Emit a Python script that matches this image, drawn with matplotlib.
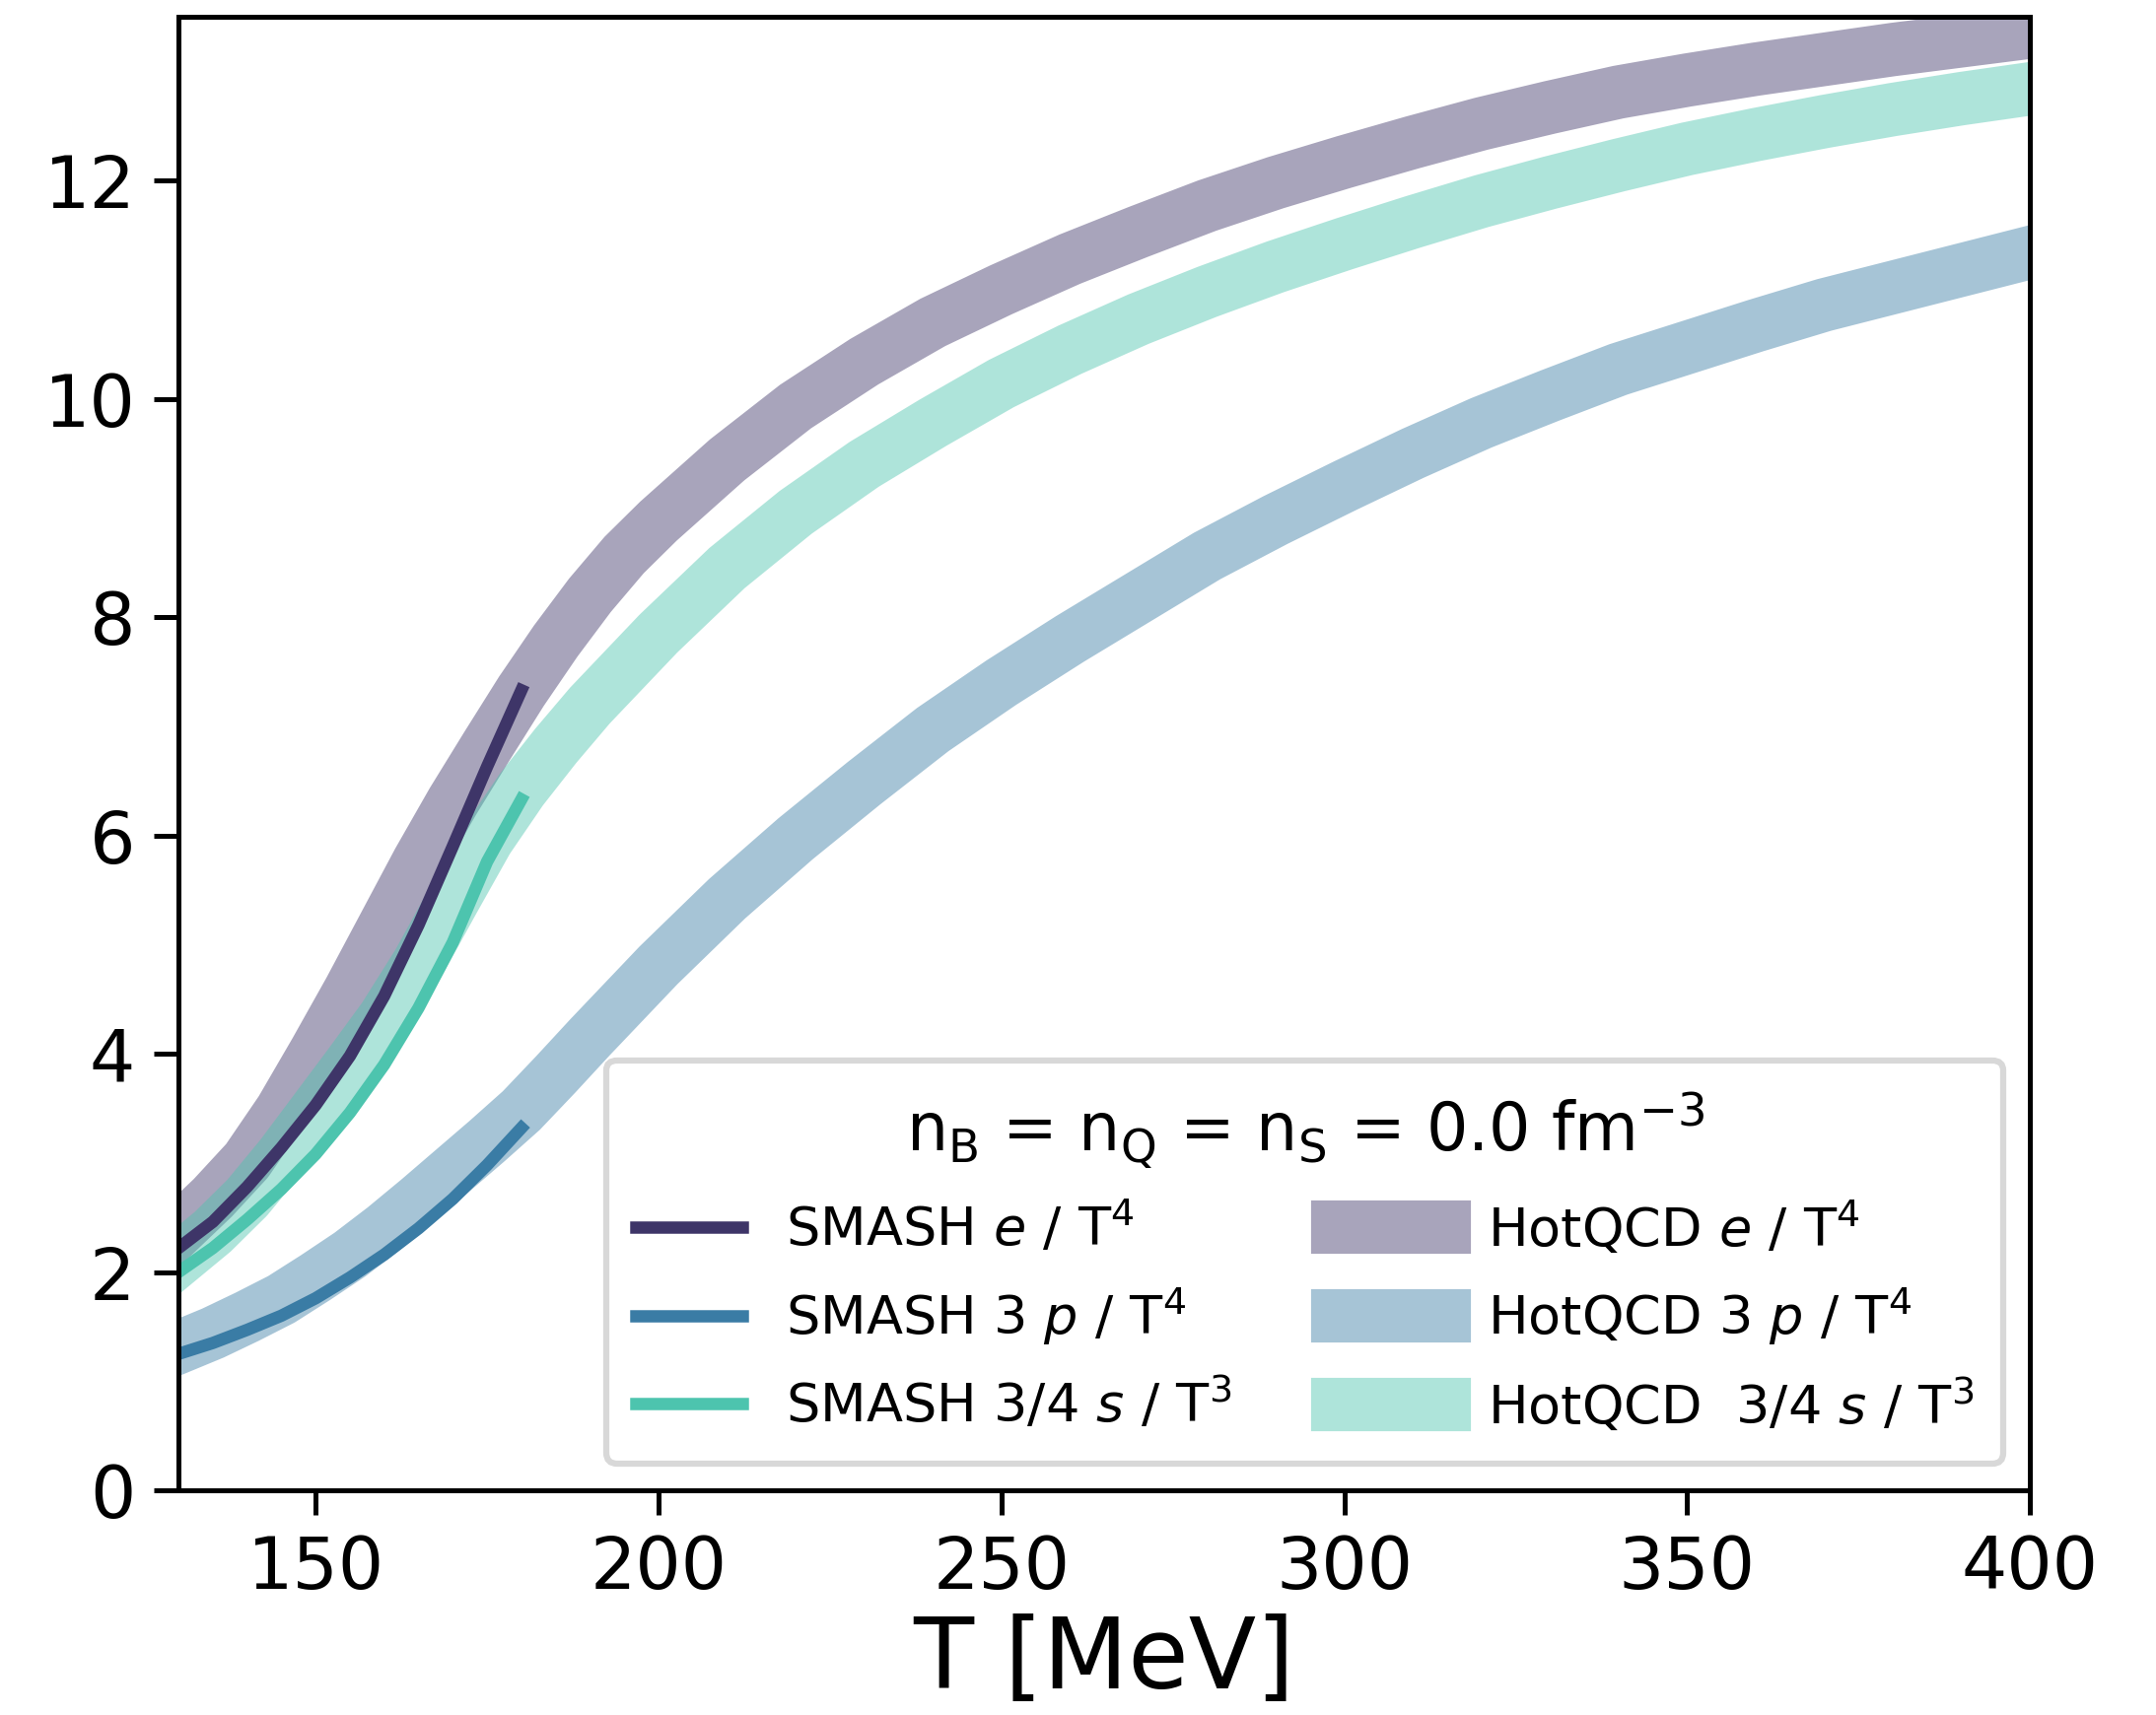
"""SMASH vs HotQCD thermodynamics at zero chemical potential."""

import matplotlib

matplotlib.use("Agg")
import matplotlib.pyplot as plt  # noqa: E402

# SMASH hadron-gas curves (T in MeV)
T_smash = [130, 135, 140, 145, 150, 155, 160, 165, 170, 175, 180]
smash_e = [2.22, 2.46, 2.78, 3.14, 3.53, 3.98, 4.53, 5.18, 5.90, 6.63, 7.33]
smash_p = [1.25, 1.35, 1.47, 1.60, 1.76, 1.95, 2.16, 2.40, 2.67, 2.98, 3.32]
smash_s = [2.00, 2.22, 2.48, 2.76, 3.08, 3.46, 3.90, 4.42, 5.02, 5.76, 6.33]

# HotQCD lattice bands (drawn as wide translucent lines)
T_lat = [130, 135, 140, 145, 150, 155, 160, 165, 170, 175, 180, 185, 190, 195,
         200, 210, 220, 230, 240, 250, 260, 270, 280, 290, 300, 310, 320, 330,
         340, 350, 360, 370, 380, 390, 400]
lat_e = [2.38, 2.68, 3.02, 3.48, 4.02, 4.58, 5.17, 5.76, 6.31, 6.82, 7.32, 7.78,
         8.20, 8.57, 8.88, 9.44, 9.93, 10.34, 10.70, 11.00, 11.28, 11.53, 11.77,
         11.98, 12.17, 12.35, 12.52, 12.67, 12.81, 12.92, 13.02, 13.11, 13.20,
         13.28, 13.36]
lat_p = [1.31, 1.44, 1.59, 1.75, 1.95, 2.16, 2.40, 2.66, 2.93, 3.20, 3.48, 3.81,
         4.15, 4.48, 4.81, 5.42, 5.97, 6.48, 6.97, 7.40, 7.80, 8.18, 8.56, 8.89,
         9.20, 9.50, 9.78, 10.03, 10.27, 10.47, 10.67, 10.86, 11.02, 11.18, 11.34]
lat_s = [2.11, 2.37, 2.68, 3.06, 3.48, 3.90, 4.33, 4.83, 5.40, 5.96, 6.42, 6.82,
         7.19, 7.52, 7.85, 8.45, 8.96, 9.40, 9.78, 10.14, 10.45, 10.73, 10.98,
         11.21, 11.42, 11.62, 11.81, 11.98, 12.14, 12.29, 12.42, 12.54, 12.65,
         12.75, 12.84]

c_e, c_p, c_s = "#3e3568", "#3a7ca5", "#4dc4ae"

fig, ax = plt.subplots(figsize=(7.29, 5.8))
fig.subplots_adjust(left=0.0828, right=0.9415, top=0.9902, bottom=0.131)

band_e, = ax.plot(T_lat, lat_e, color=c_e, alpha=0.45, lw=13,
                  label="HotQCD $e$ / T$^4$")
band_p, = ax.plot(T_lat, lat_p, color=c_p, alpha=0.45, lw=13,
                  label="HotQCD 3 $p$ / T$^4$")
band_s, = ax.plot(T_lat, lat_s, color=c_s, alpha=0.45, lw=13,
                  label="HotQCD  3/4 $s$ / T$^3$")
ln_e, = ax.plot(T_smash, smash_e, color=c_e, lw=3, label="SMASH $e$ / T$^4$")
ln_p, = ax.plot(T_smash, smash_p, color=c_p, lw=3, label="SMASH 3 $p$ / T$^4$")
ln_s, = ax.plot(T_smash, smash_s, color=c_s, lw=3, label="SMASH 3/4 $s$ / T$^3$")

ax.set_xlim(130, 400)
ax.set_ylim(0, 13.5)
ax.set_xticks([150, 200, 250, 300, 350, 400])
ax.set_yticks([0, 2, 4, 6, 8, 10, 12])
ax.tick_params(labelsize=17.5, length=6, width=1.2, pad=4.5)
for sp in ax.spines.values():
    sp.set_linewidth(1.2)
ax.set_xlabel("T [MeV]", fontsize=24, labelpad=2.5)

handles = [ln_e, ln_p, ln_s, band_e, band_p, band_s]
leg = ax.legend(
    handles, [h.get_label() for h in handles],
    ncol=2, loc="lower right", fontsize=13,
    title=r"n$_\mathrm{B}$ = n$_\mathrm{Q}$ = n$_\mathrm{S}$ = 0.0 fm$^{-3}$",
    title_fontsize=16, fancybox=True, framealpha=1.0, edgecolor="#d8d8d8",
    borderpad=0.55, labelspacing=0.55,
)
leg.get_frame().set_linewidth(1.5)

fig.savefig("out.png", dpi=300)
plt.close(fig)
